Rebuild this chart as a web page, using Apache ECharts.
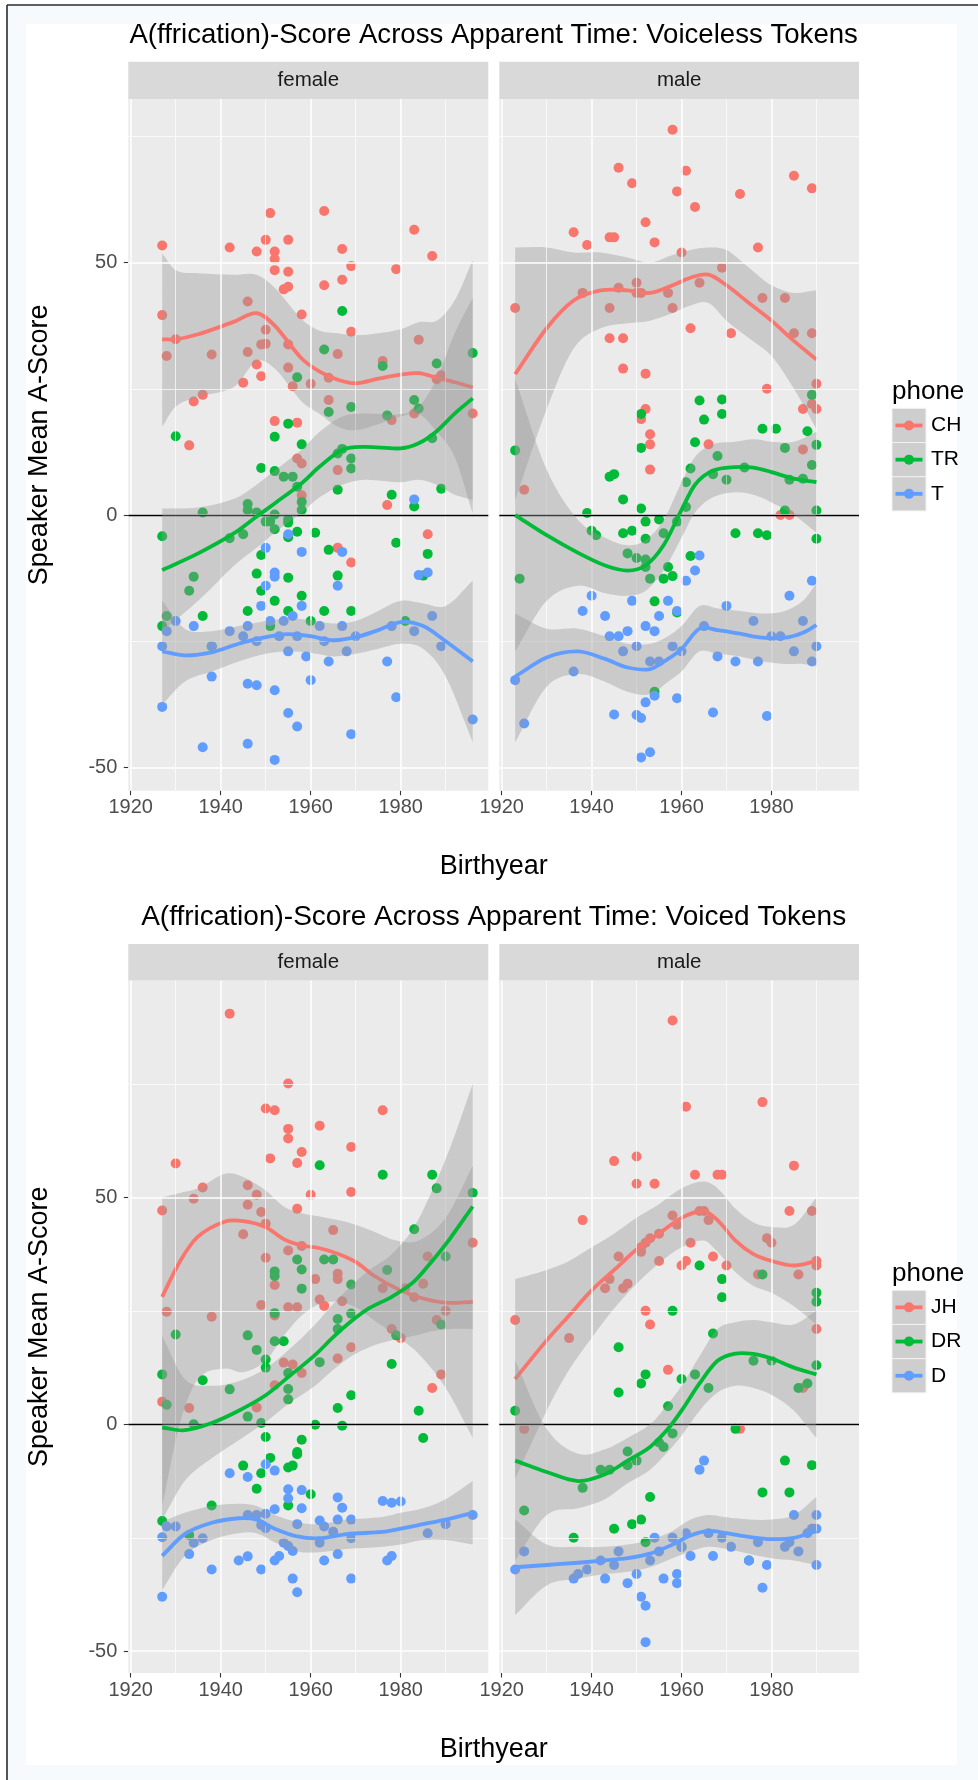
<!DOCTYPE html>
<html>
<head>
<meta charset="utf-8">
<script src="https://cdn.jsdelivr.net/npm/echarts@6/dist/echarts.min.js"></script>
<style>
  html, body { margin: 0; padding: 0; background: #ffffff; }
  #chart { width: 978px; height: 1780px; }
</style>
</head>
<body>
<div id="chart"></div>
<script>
// ---------------------------------------------------------------------------
// Labels and ticks
// ---------------------------------------------------------------------------
const TITLES = [
  'A(ffrication)-Score Across Apparent Time: Voiceless Tokens',
  'A(ffrication)-Score Across Apparent Time: Voiced Tokens'
];
const FACETS = ['female', 'male'];
const PHONES_VOICELESS = ['CH', 'TR', 'T'];
const PHONES_VOICED = ['JH', 'DR', 'D'];
const PHONE_COLORS = ['#F8766D', '#00BA38', '#619CFF'];
const X_TITLE = 'Birthyear';
const Y_TITLE = 'Speaker Mean A-Score';
const LEGEND_TITLE = 'phone';
const X_TICKS = [1920, 1940, 1960, 1980];
const X_MINOR = [1930, 1950, 1970, 1990];
const Y_TICKS = [-50, 0, 50];
const Y_MINOR_VOICELESS = [-25, 25, 75];
const Y_MINOR_VOICED = [-25, 25, 75];

// ---------------------------------------------------------------------------
// Speaker means [birthyear, score] — voiceless tokens
// ---------------------------------------------------------------------------
const voicelessFemaleCH = [[1951,59.8],[1963,60.2],[1927,53.4],[1942,53.0],[1948,52.2],[1950,54.5],[1952,52.2],[1952,50.7],[1955,54.5],[1967,52.7],[1983,56.5],[1987,51.3],[1952,48.5],[1955,48.2],[1969,49.3],[1979,48.7],[1967,46.6],[1963,45.5],[1954,44.7],[1955,45.2],[1946,42.3],[1927,39.6],[1958,39.7],[1950,36.7],[1969,36.3],[1930,34.8],[1984,34.7],[1949,33.8],[1950,33.9],[1955,33.8],[1928,31.5],[1938,31.8],[1946,32.3],[1966,31.9],[1976,30.5],[1948,29.8],[1955,29.2],[1949,27.5],[1989,27.7],[1988,26.9],[1964,27.2],[1945,26.2],[1956,25.5],[1960,26.0],[1964,22.8],[1934,22.5],[1936,23.8],[1983,20.1],[1978,18.8],[1996,20.1],[1933,13.8],[1952,18.6],[1957,18.3],[1957,11.2],[1958,10.2],[1966,8.9],[1958,3.9],[1977,2.0],[1986,-3.8],[1966,-6.5],[1969,-9.4]];
const voicelessFemaleTR = [[1967,40.4],[1963,32.8],[1996,32.1],[1976,29.5],[1988,30.0],[1957,27.3],[1964,20.4],[1969,21.4],[1977,19.7],[1983,22.8],[1984,21.1],[1955,18.1],[1930,15.6],[1952,15.5],[1958,14.0],[1987,15.2],[1966,12.2],[1967,13.1],[1969,11.2],[1969,9.2],[1949,9.3],[1952,8.7],[1954,7.6],[1956,7.6],[1957,5.6],[1966,5.0],[1989,5.2],[1978,4.0],[1983,1.7],[1958,2.6],[1958,1.0],[1946,2.2],[1946,1.0],[1936,0.5],[1948,0.5],[1950,-1.3],[1951,-1.3],[1952,0.1],[1952,-2.8],[1955,-0.9],[1955,-1.5],[1957,-3.3],[1961,-3.5],[1945,-3.8],[1942,-4.6],[1927,-4.2],[1955,-4.4],[1949,-7.9],[1964,-6.9],[1979,-5.5],[1986,-7.7],[1934,-12.2],[1948,-11.6],[1955,-12.4],[1966,-12.0],[1927,-22],[1928,-20],[1933,-15],[1936,-20],[1938,-26],[1946,-19],[1949,-15],[1951,-22],[1952,-17],[1955,-19],[1958,-16],[1960,-21],[1963,-19],[1969,-19],[1981,-21],[1985,-12]];
const voicelessFemaleT = [[1983,3.1],[1955,-3.8],[1950,-6.5],[1958,-7.3],[1967,-7.3],[1952,-11.4],[1952,-12.2],[1984,-11.9],[1986,-11.4],[1927,-38.0],[1936,-46.0],[1946,-45.3],[1952,-48.5],[1955,-39.2],[1957,-41.9],[1969,-43.4],[1979,-36.1],[1996,-40.5],[1946,-33.4],[1948,-33.7],[1952,-34.7],[1938,-32.0],[1960,-32.7],[1927,-26],[1928,-23],[1930,-21],[1934,-22],[1938,-26],[1942,-23],[1945,-24],[1946,-22],[1948,-25],[1949,-18],[1950,-14],[1951,-21],[1953,-24],[1954,-21],[1955,-27],[1956,-20],[1957,-24],[1958,-18],[1959,-28],[1962,-22],[1963,-25],[1964,-29],[1966,-14],[1967,-22],[1968,-27],[1970,-24],[1977,-29],[1978,-22],[1983,-23],[1987,-20],[1989,-26]];
const voicelessMaleCH = [[1958,76.3],[1946,68.8],[1961,68.2],[1949,65.7],[1959,64.1],[1973,63.6],[1985,67.2],[1989,64.7],[1923,41],[1925,5],[1936,56],[1939,53.5],[1938,44],[1944,55],[1945,55],[1944,41],[1946,45],[1944,35],[1947,29],[1947,35],[1950,44],[1950,46],[1951,44],[1951,19],[1952,58],[1952,21],[1952,28],[1953,16],[1953,14],[1953,9],[1954,54],[1957,44],[1958,41],[1960,52],[1962,37],[1963,61],[1964,46],[1966,14],[1969,49],[1971,36],[1977,53],[1978,43],[1979,25],[1983,43],[1985,36],[1987,21],[1989,36],[1990,26],[1989,22],[1987,13],[1982,0],[1984,0],[1990,21]];
const voicelessMaleTR = [[1923,12.8],[1924,-12.6],[1939,0.4],[1940,-3.1],[1941,-4.0],[1944,7.6],[1945,8.1],[1947,3.1],[1947,-3.6],[1948,-7.6],[1949,-3.1],[1950,-8.5],[1951,1.3],[1951,13.3],[1951,20.0],[1952,-4.7],[1952,-8.8],[1952,-10.3],[1952,-1.3],[1953,-12.6],[1954,-17.1],[1955,-0.9],[1956,-3.6],[1956,-12.6],[1957,-10.3],[1958,-12.1],[1959,-19.3],[1959,-1.3],[1961,6.5],[1961,1.6],[1962,-8.1],[1962,9.2],[1963,14.4],[1964,22.7],[1965,18.9],[1967,8.1],[1968,11.7],[1969,22.9],[1969,20.0],[1970,7.0],[1972,-3.6],[1974,9.4],[1977,-3.6],[1978,17.1],[1979,-4.0],[1981,17.1],[1983,0.9],[1983,13.3],[1984,7.0],[1987,7.2],[1988,16.6],[1989,23.8],[1989,9.9],[1990,13.9],[1990,-4.7],[1990,0.9],[1954,-35.0]];
const voicelessMaleT = [[1923,-32.7],[1925,-41.3],[1936,-31],[1938,-19],[1940,-16],[1943,-20],[1944,-24],[1945,-39.5],[1946,-24],[1947,-27],[1948,-23],[1949,-17],[1950,-26],[1950,-39.6],[1951,-40.2],[1951,-48.0],[1952,-22],[1953,-47.0],[1952,-37.1],[1953,-29],[1954,-35.8],[1954,-23],[1955,-20],[1955,-29],[1957,-17],[1958,-26],[1959,-36.3],[1959,-19],[1960,-27],[1961,-13],[1963,-11],[1964,-8],[1965,-22],[1967,-39.1],[1968,-28],[1970,-18],[1972,-29],[1976,-21],[1977,-29],[1979,-39.8],[1980,-24],[1982,-24],[1984,-16],[1985,-27],[1987,-21],[1989,-29],[1989,-13],[1990,-26]];

// ---------------------------------------------------------------------------
// Speaker means [birthyear, score] — voiced tokens
// ---------------------------------------------------------------------------
const voicedFemaleJH = [[1942,90.5],[1955,75.1],[1950,69.6],[1952,69.2],[1976,69.2],[1955,65.1],[1962,65.8],[1955,63.0],[1958,60.0],[1951,58.6],[1957,57.6],[1930,57.5],[1969,61.1],[1960,50.6],[1969,51.2],[1946,52.7],[1936,52.2],[1934,49.7],[1948,50.6],[1946,48.4],[1949,46.8],[1950,44.2],[1957,47.5],[1927,47.1],[1945,41.9],[1965,42.8],[1958,39.3],[1955,38.3],[1950,36.7],[1952,30.7],[1961,32.0],[1966,33.2],[1966,32.0],[1949,26.3],[1962,27.5],[1963,26.1],[1955,25.8],[1957,25.8],[1952,24.0],[1967,27.1],[1938,23.7],[1928,24.8],[1954,13.6],[1956,13.2],[1958,11.3],[1952,8.6],[1966,14.5],[1969,17.0],[1978,21.0],[1927,5.0],[1933,3.6],[1948,3.7],[1976,30.0],[1980,19],[1981,30],[1983,28],[1985,31],[1986,37],[1987,8],[1988,23],[1989,11],[1990,25],[1996,40]];
const voicedFemaleDR = [[1962,57.1],[1976,55.0],[1952,33.7],[1952,32.7],[1957,36.3],[1958,34.1],[1963,36.3],[1965,36.3],[1958,29.9],[1977,34.0],[1969,30.8],[1966,23.2],[1969,24.4],[1952,24.5],[1966,21.0],[1930,19.8],[1946,19.6],[1948,16.4],[1952,18.3],[1954,18.3],[1950,14.3],[1950,12.5],[1955,11.3],[1962,13.7],[1978,13.3],[1979,19.6],[1927,11.0],[1936,9.7],[1942,7.7],[1955,7.8],[1955,5.5],[1969,6.4],[1966,3.6],[1928,4.3],[1946,1.7],[1961,-0.1],[1967,-0.3],[1934,0.0],[1949,0.3],[1950,-2.8],[1958,-3.4],[1957,-6.1],[1957,-6.6],[1951,-7.4],[1945,-9.1],[1949,-10.8],[1955,-9.5],[1956,-9.1],[1948,-14.2],[1960,-15.4],[1955,-17.9],[1938,-17.9],[1927,-21.3],[1933,-24.4],[1983,43],[1984,3],[1987,55],[1988,52],[1989,22],[1990,37],[1996,51],[1985,-3]];
const voicedFemaleD = [[1942,-10.8],[1946,-11.6],[1950,-8.8],[1952,-10.2],[1955,-14.3],[1955,-16.3],[1958,-14.5],[1958,-18.5],[1966,-16.1],[1967,-18.4],[1976,-16.9],[1978,-17.3],[1952,-18.7],[1928,-22.5],[1930,-22.5],[1927,-24.9],[1946,-20.0],[1948,-20.0],[1950,-19.7],[1949,-22.2],[1950,-22.9],[1957,-22.0],[1962,-21.2],[1963,-22.5],[1965,-23.7],[1966,-21.0],[1969,-21.0],[1969,-25.1],[1962,-26.1],[1934,-26.1],[1936,-25.1],[1933,-28.6],[1954,-26.1],[1955,-26.8],[1956,-27.9],[1966,-28.6],[1946,-29.1],[1952,-30.0],[1927,-38],[1938,-32],[1944,-30],[1949,-32],[1953,-29],[1956,-34],[1957,-37],[1963,-30],[1969,-34],[1977,-30],[1978,-29],[1980,-17],[1986,-24],[1990,-22],[1996,-20]];
const voicedMaleJH = [[1923,23],[1925,-1],[1935,19],[1938,45],[1943,30],[1944,32],[1945,58],[1946,37],[1947,30],[1948,31],[1950,53],[1950,59],[1951,38],[1951,39],[1952,40],[1952,25],[1953,22],[1953,41],[1954,53],[1955,42],[1955,36],[1957,12],[1958,46],[1958,89],[1959,44],[1960,35],[1961,70],[1961,36],[1962,40],[1963,55],[1964,47],[1965,47],[1966,45],[1967,37],[1968,55],[1969,55],[1970,35],[1973,-1],[1977,33],[1978,71],[1979,41],[1980,40],[1984,47],[1985,57],[1986,33],[1987,8],[1989,47],[1990,36],[1990,21],[1990,35]];
const voicedMaleDR = [[1923,3],[1925,-19],[1936,-25],[1938,-14],[1942,-10],[1944,-10],[1945,-23],[1946,7],[1946,17],[1948,-6],[1948,-9],[1949,-22],[1950,-8],[1951,9],[1951,-21],[1952,11],[1952,-26],[1953,-16],[1955,-4],[1956,-5],[1957,4],[1958,25],[1958,-2],[1960,10],[1960,-27],[1963,11],[1964,35],[1966,8],[1967,20],[1969,28],[1969,32],[1972,-1],[1975,-30],[1976,14],[1978,33],[1978,-15],[1980,14],[1983,-8],[1984,-15],[1986,8],[1988,9],[1989,-9],[1990,27],[1990,29],[1990,13]];
const voicedMaleD = [[1923,-32],[1925,-28],[1936,-34],[1937,-33],[1939,-32],[1942,-30],[1943,-34],[1945,-31],[1946,-28],[1948,-35],[1950,-33],[1951,-38],[1952,-48],[1952,-40],[1953,-30],[1954,-25],[1955,-28],[1956,-34],[1958,-25],[1959,-35],[1959,-33],[1960,-27],[1961,-24],[1962,-29],[1964,-10],[1965,-8],[1966,-24],[1967,-29],[1969,-25],[1971,-27],[1975,-30],[1977,-26],[1978,-36],[1979,-31],[1983,-27],[1984,-26],[1985,-20],[1986,-28],[1988,-24],[1989,-23],[1990,-20],[1990,-31],[1990,-23]];

// ---------------------------------------------------------------------------
// Loess fits [birthyear, fit, lower CI, upper CI]
// ---------------------------------------------------------------------------
const fitVoicelessFemaleCH = [[1927,34.8,17.5,51.8],[1930,34.8,21.5,48.5],[1935,35.8,23.4,47.9],[1943,38.3,25.4,47.6],[1948,40,30.5,47.6],[1952,37.5,29,45],[1958,31,22.5,38.8],[1962,28.4,20,36.5],[1966,26.8,17.5,36],[1970,26.1,16.8,35.6],[1975,27,18,36],[1980,27.8,19.5,36.8],[1984,28.1,20,38.2],[1988,27.2,16.5,38.5],[1992,26.3,11.5,42.5],[1996,25.3,0.3,50.5]];
const fitVoicelessFemaleTR = [[1927,-10.9,-23,1.3],[1935,-7.6,-17,1.5],[1943,-3.6,-10,3.2],[1948,-0.3,-6.5,6],[1952,2.3,-3.5,8.8],[1958,6.3,0.5,13],[1962,9.6,3.5,16.5],[1967,12.9,6,19.5],[1972,13.5,7,20.1],[1980,13.2,6.5,20],[1984,14.2,7,21.5],[1988,16.6,6,27],[1992,20.1,4,36],[1996,23.1,3,43]];
const fitVoicelessFemaleT = [[1927,-27,-37.5,-17],[1932,-27.8,-33,-22.5],[1938,-27.2,-31,-23],[1944,-25.5,-29,-22],[1950,-24.2,-27.5,-21],[1955,-23.6,-27,-20.5],[1960,-24,-27.3,-20.8],[1965,-24.8,-28,-21.5],[1970,-24.2,-27.5,-21],[1975,-22.8,-26.5,-19],[1980,-21.2,-25.5,-17],[1985,-22,-26.5,-17.5],[1990,-25,-32,-18],[1996,-29,-45,-13]];
const fitVoicelessMaleCH = [[1923,27.9,3,53],[1930,37,21,53],[1936,42.5,33,52],[1942,44.5,37,52],[1948,44.5,38,51],[1953,44,38.5,50],[1958,45.5,40,51.5],[1962,47,41.5,52.5],[1966,47.6,42,53],[1970,45.5,38.5,52.5],[1975,42,35,49],[1980,38.5,31.5,45.5],[1985,34.5,25,44],[1990,30.8,17,44.5]];
const fitVoicelessMaleTR = [[1923,0,-27,27],[1930,-4,-17,9],[1937,-7.5,-14,-1],[1943,-10,-15.5,-4.5],[1948,-11,-16,-6],[1952,-10,-15,-5],[1956,-6,-11,-1],[1960,1,-4.5,6.5],[1963,6,0.5,11.5],[1967,8.8,3.5,14],[1972,9.5,4.5,14.5],[1976,9.4,4,15],[1980,8.5,2.5,14.5],[1985,7.2,0,14.5],[1990,6.5,-3.5,16.5]];
const fitVoicelessMaleT = [[1923,-32,-45,-19.5],[1930,-28.2,-34,-22.5],[1937,-27,-31.5,-22.5],[1943,-28.5,-33,-24],[1948,-30.2,-35,-25.5],[1953,-30.5,-35.5,-25.5],[1957,-28.5,-33,-24],[1960,-26.5,-31,-22],[1964,-22.5,-27,-18],[1968,-22.8,-27.5,-18.5],[1973,-23.5,-28,-19],[1978,-24.3,-29,-19.5],[1983,-24.3,-29.5,-19],[1987,-23.3,-29.5,-17],[1990,-21.8,-30,-13.5]];
const fitVoicedFemaleJH = [[1927,28.1,-18,50],[1931,36,0.5,51],[1935,41.4,10,52],[1941,44.7,12.3,55.2],[1945,44.8,11.5,54.5],[1950,43.5,14,51.5],[1954,40.8,19.5,48],[1958,39.4,24,46.5],[1962,38.8,26.5,45.8],[1966,37.6,27,45],[1970,35.8,25.8,44],[1974,32.8,23,42.5],[1979,30,19.5,40.5],[1984,28,15.5,40.5],[1990,26.8,8,45.5],[1996,27,-3,57]];
const fitVoicedFemaleDR = [[1927,-0.7,-21,19.5],[1932,-1.3,-12.5,10],[1938,0.3,-7.5,8.5],[1944,3,-3.5,9.5],[1950,6.4,0.5,12.3],[1955,10.4,4.5,16.3],[1961,15.3,8.5,22],[1965,19.2,12,26.5],[1969,22.7,15,30.5],[1973,25.6,17,34],[1978,28.1,18.5,37.5],[1983,31.5,19.5,43.5],[1987,36,20.5,51.5],[1991,41,21,61],[1996,48,21,75]];
const fitVoicedFemaleD = [[1927,-29,-36.5,-21.5],[1932,-24.2,-29,-19.5],[1938,-21.7,-25.5,-18],[1944,-20.7,-24,-17.5],[1948,-21,-24,-18],[1952,-23,-26,-20],[1957,-24.7,-28,-21.5],[1962,-25.1,-28.2,-22],[1968,-24.2,-27.5,-21],[1976,-23.7,-27,-20.4],[1980,-23,-26.5,-19.5],[1985,-22,-25.5,-18.5],[1990,-21,-25.5,-16.5],[1996,-19.5,-26.5,-12.5]];
const fitVoicedMaleJH = [[1923,10,-12,32],[1930,18.5,3,34],[1935,24,12,36],[1940,29.5,19,39],[1945,34,25.5,42],[1950,38.5,31,45.5],[1955,42,35.5,48.5],[1960,45.5,39,52],[1965,47,40.5,53.5],[1968,45,38,52],[1972,40.5,33.5,47.5],[1976,37.5,30.5,44.5],[1980,36,29,43.5],[1985,35,26,44],[1990,36,22,50]];
const fitVoicedMaleDR = [[1923,-8,-30,14],[1930,-10.5,-20,-1],[1937,-12.5,-18.5,-6.5],[1943,-11,-16.5,-5.5],[1948,-8,-13,-3],[1953,-5,-10,0],[1957,-1,-6,4.5],[1960,3,-2.5,8.5],[1964,9,3,15],[1968,14,7,21],[1972,15.6,8.5,22.5],[1976,15.5,8,23],[1980,14.5,6.5,22.5],[1985,12.5,3,22],[1990,11,-3,25]];
const fitVoicedMaleD = [[1923,-31.5,-42,-21],[1930,-31,-35.5,-26.5],[1937,-30.5,-34,-27],[1943,-30,-33,-27],[1948,-29.5,-32.5,-26.5],[1953,-28.5,-31.5,-25.5],[1958,-26.5,-29.5,-23.5],[1962,-24.5,-28,-21],[1966,-23.5,-27,-20],[1970,-24,-27.5,-20.5],[1975,-24.8,-28.5,-21],[1980,-25.3,-29.5,-21],[1985,-25,-30,-20],[1990,-23.5,-31,-16]];

// ---------------------------------------------------------------------------
// Panel assembly
// ---------------------------------------------------------------------------
const FONT = '"Liberation Sans", Arial, Helvetica, sans-serif';
const PANEL_BG = '#EBEBEB';
const STRIP_BG = '#D9D9D9';
const BAND_FILL = 'rgba(153,153,153,0.4)';

const X_RANGE = [1919.47, 1999.47];
const Y_RANGES = [[-54.6, 82.4], [-54.8, 97.8]];
const ROWS = [
  { top: 99, height: 691.7, stripTop: 61.7, stripH: 37.3, titleY: 35, titleSize: 27.6, xTitleY: 867 },
  { top: 980.5, height: 692.5, stripTop: 944, stripH: 36.5, titleY: 917, titleSize: 28, xTitleY: 1750 }
];
const COLS = [{ left: 128.3, width: 360 }, { left: 499.3, width: 359.7 }];

const CHARTS = [
  {
    phones: PHONES_VOICELESS,
    yMinor: Y_MINOR_VOICELESS,
    points: [[voicelessFemaleCH, voicelessFemaleTR, voicelessFemaleT], [voicelessMaleCH, voicelessMaleTR, voicelessMaleT]],
    fits: [[fitVoicelessFemaleCH, fitVoicelessFemaleTR, fitVoicelessFemaleT], [fitVoicelessMaleCH, fitVoicelessMaleTR, fitVoicelessMaleT]]
  },
  {
    phones: PHONES_VOICED,
    yMinor: Y_MINOR_VOICED,
    points: [[voicedFemaleJH, voicedFemaleDR, voicedFemaleD], [voicedMaleJH, voicedMaleDR, voicedMaleD]],
    fits: [[fitVoicedFemaleJH, fitVoicedFemaleDR, fitVoicedFemaleD], [fitVoicedMaleJH, fitVoicedMaleDR, fitVoicedMaleD]]
  }
];

// Cubic Hermite path through pixel points (tangents from neighbouring points)
function curvePath(pts, startCmd) {
  const n = pts.length;
  const m = new Array(n);
  for (let i = 0; i < n; i++) {
    const a = pts[Math.max(0, i - 1)], b = pts[Math.min(n - 1, i + 1)];
    m[i] = (b[1] - a[1]) / (b[0] - a[0]);
  }
  let d = startCmd + pts[0][0].toFixed(2) + ' ' + pts[0][1].toFixed(2);
  for (let i = 0; i < n - 1; i++) {
    const p = pts[i], q = pts[i + 1], h = q[0] - p[0];
    d += ' C' + (p[0] + h / 3).toFixed(2) + ' ' + (p[1] + m[i] * h / 3).toFixed(2) + ' ' +
         (q[0] - h / 3).toFixed(2) + ' ' + (q[1] - m[i + 1] * h / 3).toFixed(2) + ' ' +
         q[0].toFixed(2) + ' ' + q[1].toFixed(2);
  }
  return d;
}

function bandRenderer(fit) {
  return function (params, api) {
    if (params.dataIndex !== 0) return null;
    const upper = fit.map(r => api.coord([r[0], r[3]]));
    const lower = fit.map(r => api.coord([r[0], r[2]])).reverse();
    const d = curvePath(upper, 'M') + ' ' + curvePath(lower, 'L') + ' Z';
    return { type: 'path', shape: { pathData: d }, style: { fill: BAND_FILL, stroke: null } };
  };
}

function lineRenderer(fit, color) {
  return function (params, api) {
    if (params.dataIndex !== 0) return null;
    const pts = fit.map(r => api.coord([r[0], r[1]]));
    return { type: 'path', shape: { pathData: curvePath(pts, 'M') },
      style: { fill: null, stroke: color, lineWidth: 3.8, lineCap: 'butt', lineJoin: 'round' } };
  };
}

const grids = [], xAxes = [], yAxes = [], series = [], graphics = [];

// page frame
graphics.push({ type: 'rect', shape: { x: 7, y: 5, width: 971, height: 1775 }, style: { fill: '#F6FAFC' }, silent: true, z: -10 });
graphics.push({ type: 'rect', shape: { x: 26, y: 24, width: 931, height: 1741 }, style: { fill: '#FFFFFF' }, silent: true, z: -9 });
graphics.push({ type: 'line', shape: { x1: 7, y1: 5, x2: 7, y2: 1780 }, style: { stroke: '#2b2b2b', lineWidth: 1.6 }, silent: true, z: -8 });
graphics.push({ type: 'line', shape: { x1: 7, y1: 5, x2: 978, y2: 5 }, style: { stroke: '#2b2b2b', lineWidth: 1.6 }, silent: true, z: -8 });

function textEl(x, y, text, size, color, rotation) {
  return {
    type: 'text', x: x, y: y, rotation: rotation || 0, silent: true, z: 10,
    style: {
      text: text, fill: color, font: size + 'px ' + FONT,
      align: 'center', verticalAlign: 'middle',
      textAlign: 'center', textVerticalAlign: 'middle'
    }
  };
}

const yearLabel = v => String(Math.round(v));

CHARTS.forEach((chartDef, c) => {
  const row = ROWS[c];
  const plotLeft = COLS[0].left;
  const plotRight = COLS[1].left + COLS[1].width;
  const centerX = (plotLeft + plotRight) / 2;

  graphics.push(textEl(centerX, row.titleY, TITLES[c], row.titleSize, '#000000'));
  graphics.push(textEl(centerX, row.xTitleY, X_TITLE, 27, '#000000'));
  graphics.push(textEl(40, row.top + row.height / 2, Y_TITLE, 27, '#000000', Math.PI / 2));

  FACETS.forEach((facet, f) => {
    const col = COLS[f];
    const g = grids.length;
    grids.push({ left: col.left, top: row.top, width: col.width, height: row.height, show: true, backgroundColor: PANEL_BG, borderWidth: 0 });

    // facet strip
    graphics.push({ type: 'rect', shape: { x: col.left, y: row.stripTop, width: col.width, height: row.stripH }, style: { fill: STRIP_BG }, silent: true, z: 5 });
    graphics.push(textEl(col.left + col.width / 2, row.stripTop + row.stripH / 2, facet, 20.5, '#1A1A1A'));

    xAxes.push({
      type: 'value', gridIndex: g, min: X_RANGE[0], max: X_RANGE[1],
      axisLine: { show: false, onZero: false },
      axisTick: { show: true, length: 4.5, lineStyle: { color: '#333333', width: 1.1 }, customValues: X_TICKS },
      axisLabel: { show: true, customValues: X_TICKS, formatter: yearLabel, color: '#4D4D4D', fontSize: 20, fontFamily: FONT, margin: 7 },
      splitLine: { show: false }
    });
    yAxes.push({
      type: 'value', gridIndex: g, min: Y_RANGES[c][0], max: Y_RANGES[c][1],
      axisLine: { show: false, onZero: false },
      axisTick: { show: f === 0, length: 4.5, lineStyle: { color: '#333333', width: 1.1 }, customValues: Y_TICKS },
      axisLabel: { show: f === 0, customValues: Y_TICKS, formatter: yearLabel, color: '#4D4D4D', fontSize: 20, fontFamily: FONT, margin: 11 },
      splitLine: { show: false }
    });

    // panel grid lines
    const gridMarks = [];
    X_TICKS.forEach(v => gridMarks.push({ xAxis: v, lineStyle: { color: '#FFFFFF', width: 1.5, type: 'solid' } }));
    X_MINOR.forEach(v => gridMarks.push({ xAxis: v, lineStyle: { color: '#FFFFFF', width: 0.7, type: 'solid' } }));
    Y_TICKS.forEach(v => gridMarks.push({ yAxis: v, lineStyle: { color: '#FFFFFF', width: 1.5, type: 'solid' } }));
    chartDef.yMinor.forEach(v => gridMarks.push({ yAxis: v, lineStyle: { color: '#FFFFFF', width: 0.7, type: 'solid' } }));
    series.push({
      type: 'line', xAxisIndex: g, yAxisIndex: g, data: [], silent: true, z: 1,
      markLine: { symbol: ['none', 'none'], silent: true, animation: false, label: { show: false },
        lineStyle: { type: 'solid' }, emphasis: { disabled: true }, data: gridMarks }
    });

    // speaker points
    chartDef.phones.forEach((ph, k) => {
      series.push({
        type: 'scatter', name: ph, xAxisIndex: g, yAxisIndex: g,
        data: chartDef.points[f][k], symbol: 'circle', symbolSize: 10,
        itemStyle: { color: PHONE_COLORS[k], opacity: 1 }, z: 2, silent: true
      });
    });

    // loess confidence bands and fitted curves
    chartDef.phones.forEach((ph, k) => {
      const fit = chartDef.fits[f][k];
      series.push({
        type: 'custom', xAxisIndex: g, yAxisIndex: g, coordinateSystem: 'cartesian2d',
        data: fit, encode: { x: 0, y: 3 }, renderItem: bandRenderer(fit), clip: true, silent: true, z: 3 + 2 * k
      });
      series.push({
        type: 'custom', name: ph, xAxisIndex: g, yAxisIndex: g, coordinateSystem: 'cartesian2d',
        data: fit, encode: { x: 0, y: 1 }, renderItem: lineRenderer(fit, PHONE_COLORS[k]), clip: true, silent: true, z: 4 + 2 * k
      });
    });

    // zero reference line
    series.push({
      type: 'line', xAxisIndex: g, yAxisIndex: g, data: [], silent: true, z: 20,
      markLine: { symbol: ['none', 'none'], silent: true, animation: false, label: { show: false },
        lineStyle: { color: '#000000', width: 1.3, type: 'solid' }, data: [{ yAxis: 0 }] }
    });
  });

  // legend
  const legendX = 892, keyW = 34, keyH = 34.2;
  const legendCenter = row.top + row.height / 2;
  const titleY = legendCenter - 53;
  graphics.push({
    type: 'text', x: legendX, y: titleY, silent: true, z: 10,
    style: { text: LEGEND_TITLE, fill: '#000000', font: '26px ' + FONT, align: 'left', verticalAlign: 'middle', textAlign: 'left', textVerticalAlign: 'middle' }
  });
  chartDef.phones.forEach((ph, k) => {
    const ky = titleY + 16.5 + k * keyH;
    const cy = ky + keyH / 2;
    graphics.push({ type: 'rect', shape: { x: legendX, y: ky, width: keyW, height: keyH }, style: { fill: '#CECECE', stroke: '#F2F2F2', lineWidth: 1 }, silent: true, z: 10 });
    graphics.push({ type: 'line', shape: { x1: legendX + 3.5, y1: cy, x2: legendX + keyW - 3.5, y2: cy }, style: { stroke: PHONE_COLORS[k], lineWidth: 3.8 }, silent: true, z: 11 });
    graphics.push({ type: 'circle', shape: { cx: legendX + keyW / 2, cy: cy, r: 5 }, style: { fill: PHONE_COLORS[k] }, silent: true, z: 12 });
    graphics.push({
      type: 'text', x: legendX + keyW + 5, y: cy, silent: true, z: 10,
      style: { text: ph, fill: '#000000', font: '21px ' + FONT, align: 'left', verticalAlign: 'middle', textAlign: 'left', textVerticalAlign: 'middle' }
    });
  });
});

const chart = echarts.init(document.getElementById('chart'), null, { renderer: 'canvas', width: 978, height: 1780 });
chart.setOption({
  animation: false,
  backgroundColor: '#FFFFFF',
  grid: grids,
  xAxis: xAxes,
  yAxis: yAxes,
  series: series,
  graphic: { elements: graphics }
});
</script>
</body>
</html>
